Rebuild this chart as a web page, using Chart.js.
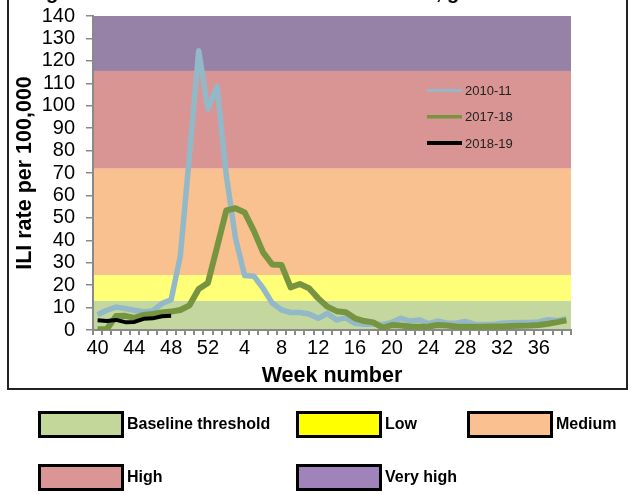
<!DOCTYPE html>
<html><head><meta charset="utf-8">
<script src="https://cdn.jsdelivr.net/npm/chart.js@4.4.1/dist/chart.umd.min.js"></script>
<style>html,body{margin:0;padding:0;background:#fff}</style>
</head><body>
<canvas id="c" width="632" height="494"></canvas>
<script>
// ---- data ----
const weekLabels = [40,41,42,43,44,45,46,47,48,49,50,51,52,1,2,3,4,5,6,7,8,9,10,11,12,13,14,15,16,17,18,19,20,21,22,23,24,25,26,27,28,29,30,31,32,33,34,35,36,37,38,39];
const season201011 = [6.8,8.8,10.2,9.6,8.8,8.1,8.5,11.8,13.5,33,78,124.5,98.5,108.5,69,41,24.3,24,18.6,12,9,7.8,7.8,7.1,5.2,7.4,4.5,5.4,3.0,2.6,2.6,2.4,3.4,5.2,4.0,4.5,2.8,4.0,3.0,3.0,3.8,2.6,2.5,2.5,3.0,3.2,3.3,3.3,3.6,4.6,4.2,5.0];
const season201718 = [0.3,0.3,6.2,6.3,5.4,6.7,7.1,7.8,8.2,8.9,11,18.3,21,37,53.3,54.3,52.4,44.2,34.6,29.2,29,19,20.5,18.6,14.1,10.4,8.4,7.9,5.2,4.0,3.4,1.0,2.2,2.0,1.6,1.5,1.6,2.2,2.0,1.6,1.5,1.5,1.5,1.6,1.6,1.8,1.9,2.0,2.2,2.8,3.5,4.3];
const season201819 = [4.3,4.0,4.5,3.5,3.6,5.0,5.2,6.1,6.3];
const seasonNames = ['2010-11','2017-18','2018-19'];
const yMin = 0, yMax = 140, yStep = 10;
const xLabelEvery = 4;
const bandLimits = [0, 13, 24.5, 72, 115.5, 140];
const bandNames = ['Baseline threshold','Low','Medium','High','Very high'];

// ---- styles ----
const FONT = '"Liberation Sans", Arial, sans-serif';
const seasonColors = ['#93b8c8', '#779540', '#000000'];
const seasonWidths = [5.5, 6, 4];
const bandFill = ['#c4d79e', '#ffff78', '#f9c090', '#d99594', '#9682a6'];
const bandLegendFill = ['#c4d79b', '#ffff00', '#fac090', '#da9694', '#a083ba'];

const bandsPlugin = {
  id: 'bands',
  beforeDraw(chart) {
    const ctx = chart.ctx, a = chart.chartArea, y = chart.scales.y;
    ctx.save();
    for (let i = 0; i < bandNames.length; i++) {
      const top = y.getPixelForValue(bandLimits[i + 1]);
      const bot = y.getPixelForValue(bandLimits[i]);
      ctx.fillStyle = bandFill[i];
      ctx.fillRect(a.left, top, a.right - a.left, bot - top);
    }
    ctx.restore();
  },
  afterDraw(chart) {
    const ctx = chart.ctx, a = chart.chartArea;
    ctx.save();
    // frame
    ctx.strokeStyle = '#222';
    ctx.lineWidth = 2;
    ctx.strokeRect(8, -4, 619, 393);
    // clipped title fragments
    ctx.fillStyle = '#000';
    ctx.font = 'bold 20px ' + FONT;
    ctx.textBaseline = 'alphabetic';
    ctx.textAlign = 'left';
    ctx.fillText('g', 46, -1);
    ctx.fillText(', g', 436, -1);
    // axis titles
    ctx.font = 'bold 21.5px ' + FONT;
    ctx.textAlign = 'center';
    ctx.textBaseline = 'middle';
    ctx.fillText('Week number', (a.left + a.right) / 2, 376);
    ctx.save();
    ctx.translate(25, (a.top + a.bottom) / 2);
    ctx.rotate(-Math.PI / 2);
    ctx.fillText('ILI rate per 100,000', 0, 0);
    ctx.restore();
    // inner legend
    const lw = [3, 3.5, 4];
    ctx.font = '13px ' + FONT;
    ctx.textAlign = 'left';
    for (let i = 0; i < seasonNames.length; i++) {
      const yy = 90.5 + i * 26.3;
      ctx.strokeStyle = seasonColors[i];
      ctx.lineWidth = lw[i];
      ctx.beginPath();
      ctx.moveTo(427, yy);
      ctx.lineTo(462, yy);
      ctx.stroke();
      ctx.fillStyle = '#222';
      ctx.fillText(seasonNames[i], 465, yy + 1);
    }
    // bottom legend
    const pos = [[38, 411], [296, 411], [467, 411], [38, 464], [296, 464]];
    ctx.font = 'bold 16px ' + FONT;
    for (let i = 0; i < bandNames.length; i++) {
      const [bx, by] = pos[i];
      ctx.fillStyle = bandLegendFill[i];
      ctx.fillRect(bx, by, 86, 27);
      ctx.strokeStyle = '#000';
      ctx.lineWidth = 3;
      ctx.strokeRect(bx + 1.5, by + 1.5, 83, 24);
      ctx.fillStyle = '#000';
      ctx.fillText(bandNames[i], bx + 89, by + 14);
    }
    ctx.restore();
  }
};

new Chart(document.getElementById('c'), {
  type: 'line',
  data: {
    labels: weekLabels,
    datasets: [
      { label: seasonNames[0], data: season201011, borderColor: seasonColors[0], borderWidth: seasonWidths[0], pointRadius: 0, tension: 0, order: 2, borderJoinStyle: 'round' },
      { label: seasonNames[1], data: season201718, borderColor: seasonColors[1], borderWidth: seasonWidths[1], pointRadius: 0, tension: 0, order: 1, borderJoinStyle: 'round' },
      { label: seasonNames[2], data: season201819, borderColor: seasonColors[2], borderWidth: seasonWidths[2], pointRadius: 0, tension: 0, order: 0, borderJoinStyle: 'round' }
    ]
  },
  options: {
    responsive: false,
    animation: false,
    devicePixelRatio: 1,
    layout: { padding: { left: 10, right: 61, top: 16, bottom: 104 } },
    plugins: { legend: { display: false }, tooltip: { enabled: false }, title: { display: false } },
    scales: {
      x: {
        type: 'category',
        offset: true,
        afterFit(s) { s.height = 60; s.paddingLeft = 0; s.paddingRight = 0; },
        grid: { offset: true, drawOnChartArea: false, tickLength: 5, color: '#8a8a8a', lineWidth: 2 },
        border: { display: true, color: '#8a8a8a', width: 2 },
        ticks: {
          autoSkip: false, maxRotation: 0, padding: 1, color: '#000',
          font: { family: FONT, size: 20 },
          callback(v, i) { return i % xLabelEvery === 0 ? this.getLabelForValue(v) : ''; }
        }
      },
      y: {
        min: yMin, max: yMax,
        afterFit(s) { s.width = 83; s.paddingTop = 0; s.paddingBottom = 0; },
        grid: { drawOnChartArea: false, tickLength: 7, color: '#8a8a8a', lineWidth: 1.5 },
        border: { display: true, color: '#8a8a8a', width: 2 },
        ticks: { autoSkip: false, stepSize: yStep, padding: 11, color: '#000', font: { family: FONT, size: 20 } }
      }
    }
  },
  plugins: [bandsPlugin]
});
</script>
</body></html>
